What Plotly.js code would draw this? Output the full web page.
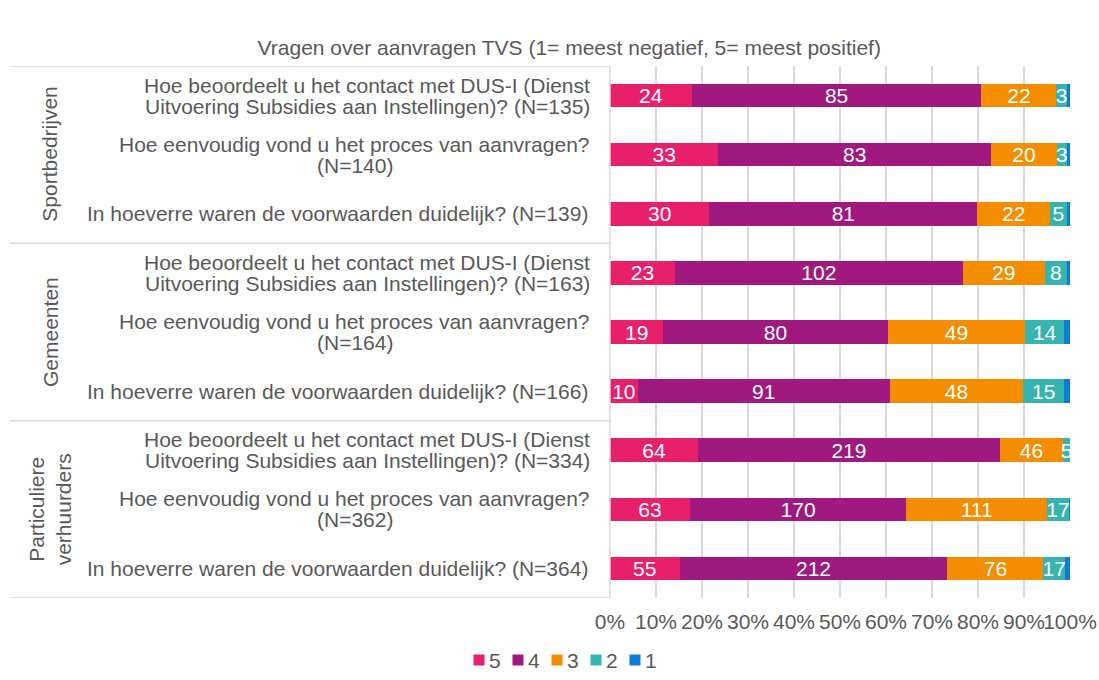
<!DOCTYPE html>
<html>
<head>
<meta charset="utf-8">
<script src="https://cdn.plot.ly/plotly-3.0.1.min.js"></script>
<style>html,body{margin:0;padding:0;background:#fff;}#chart{width:1099px;height:680px;}</style>
</head>
<body>
<div id="chart"></div>
<script>
var groups = ["Sportbedrijven", "Gemeenten", "Particuliere<br>verhuurders"];
var questions = [
  "Hoe beoordeelt u het contact met DUS-I (Dienst<br>Uitvoering Subsidies aan Instellingen)? (N=135)",
  "Hoe eenvoudig vond u het proces van aanvragen?<br>(N=140)",
  "In hoeverre waren de voorwaarden duidelijk? (N=139)",
  "Hoe beoordeelt u het contact met DUS-I (Dienst<br>Uitvoering Subsidies aan Instellingen)? (N=163)",
  "Hoe eenvoudig vond u het proces van aanvragen?<br>(N=164)",
  "In hoeverre waren de voorwaarden duidelijk? (N=166)",
  "Hoe beoordeelt u het contact met DUS-I (Dienst<br>Uitvoering Subsidies aan Instellingen)? (N=334)",
  "Hoe eenvoudig vond u het proces van aanvragen?<br>(N=362)",
  "In hoeverre waren de voorwaarden duidelijk? (N=364)"
];
var groupOfQuestion = [0,0,0,1,1,1,2,2,2];
var seriesNames = ["5", "4", "3", "2", "1"];
var score5 = [24, 33, 30, 23, 19, 10, 64, 63, 55];
var score4 = [85, 83, 81, 102, 80, 91, 219, 170, 212];
var score3 = [22, 20, 22, 29, 49, 48, 46, 111, 76];
var score2 = [3, 3, 5, 8, 14, 15, 5, 17, 17];
var score1 = [1, 1, 1, 1, 2, 2, 0, 1, 4];
var xTicks = [0,10,20,30,40,50,60,70,80,90,100];

var colors = ["#E8206B", "#A0197E", "#F58D00", "#36B5B0", "#0B7DD6"];
var allSeries = [score5, score4, score3, score2, score1];
var yIdx = questions.map(function(q, i){ return i; });

var font = "Liberation Sans, Arial, sans-serif";
var fs = 21;
var grey = "#595959";
var lineGrey = "#D9D9D9";

var canvas = document.createElement("canvas");
var ctx = canvas.getContext("2d");
ctx.font = fs + "px 'Liberation Sans', Arial, sans-serif";
function textW(t){ return ctx.measureText(t).width; }

var traces = allSeries.map(function(vals, s){
  return {
    type: "bar",
    orientation: "h",
    name: seriesNames[s],
    y: yIdx,
    x: vals,
    text: s < 4 ? vals.map(String) : vals.map(function(){return "";}),
    textposition: "inside",
    insidetextanchor: "middle",
    constraintext: "none",
    textangle: 0,
    textfont: {color: "#FFFFFF", size: fs, family: font},
    marker: {color: colors[s], line: {width: 0}},
    hoverinfo: "name+x",
    showlegend: false
  };
});

var annotations = [];
var labelGap = 20;
var lineStep = 21;
questions.forEach(function(q, i){
  var lines = q.split("<br>");
  if (lines.length === 1) {
    annotations.push({
      xref: "paper", yref: "y", x: 0, y: i, xanchor: "right", yanchor: "middle",
      xshift: -labelGap, text: q, showarrow: false,
      font: {family: font, size: fs, color: grey}
    });
  } else {
    var maxW = Math.max.apply(null, lines.map(textW));
    lines.forEach(function(line, li){
      annotations.push({
        xref: "paper", yref: "y", x: 0, y: i, xanchor: "center", yanchor: "middle",
        xshift: -labelGap - maxW / 2, yshift: ((lines.length - 1) / 2 - li) * lineStep,
        text: line, showarrow: false,
        font: {family: font, size: fs, color: grey}
      });
    });
  }
});
groups.forEach(function(g, gi){
  var idx = [];
  groupOfQuestion.forEach(function(v, i){ if (v === gi) idx.push(i); });
  var mid = (idx[0] + idx[idx.length-1]) / 2;
  annotations.push({
    xref: "paper", yref: "y", x: 0, y: mid, xanchor: "center", yanchor: "middle",
    xshift: -560, text: g, showarrow: false, textangle: -90, align: "center",
    font: {family: font, size: fs, color: grey}
  });
});

var shapes = [];
var bounds = [-0.5];
for (var i = 1; i < groupOfQuestion.length; i++) {
  if (groupOfQuestion[i] !== groupOfQuestion[i-1]) bounds.push(i - 0.5);
}
bounds.push(questions.length - 0.5);
bounds.forEach(function(b){
  shapes.push({type: "line", xref: "paper", yref: "y", x0: -1.305, x1: 0, y0: b, y1: b,
    line: {color: lineGrey, width: 1.5}});
});
shapes.push({type: "line", xref: "paper", yref: "y", x0: 0, x1: 0, y0: -0.5, y1: questions.length - 0.5,
  line: {color: lineGrey, width: 1.5}});

// legend (manual, compact like the original)
var legStart = -136.5, legStep = 39, legBox = 11, legY = -62;
seriesNames.forEach(function(n, s){
  var left = legStart + s * legStep;
  shapes.push({type: "rect", xref: "paper", yref: "paper", xsizemode: "pixel", ysizemode: "pixel",
    xanchor: 0, yanchor: 0, x0: left, x1: left + legBox, y0: legY - legBox / 2, y1: legY + legBox / 2,
    fillcolor: colors[s], line: {width: 0}});
  annotations.push({xref: "paper", yref: "paper", x: 0, y: 0, xanchor: "left", yanchor: "middle",
    xshift: left + legBox + 2, yshift: legY, text: n, showarrow: false,
    font: {family: font, size: fs, color: grey}});
});

var layout = {
  width: 1099, height: 680,
  margin: {l: 610, r: 29, t: 66, b: 82},
  paper_bgcolor: "#FFFFFF", plot_bgcolor: "#FFFFFF",
  barmode: "stack", barnorm: "percent", bargap: 0.6,
  font: {family: font, size: fs, color: grey},
  title: {text: "Vragen over aanvragen TVS (1= meest negatief, 5= meest positief)",
    x: 0.518, xanchor: "center", y: 0.93, yanchor: "middle",
    font: {family: font, size: fs, color: grey}},
  xaxis: {range: [0, 100], tickvals: xTicks, ticktext: xTicks.map(function(v){return v + "%";}),
    tickangle: 0,
    showgrid: true, gridcolor: lineGrey, gridwidth: 1.5, zeroline: false, showline: false,
    ticks: "", ticklabelstandoff: 9, tickfont: {family: font, size: fs, color: grey}, fixedrange: true},
  yaxis: {range: [questions.length - 0.5, -0.5], showticklabels: false, showgrid: false,
    zeroline: false, showline: false, ticks: "", fixedrange: true},
  showlegend: false,
  annotations: annotations,
  shapes: shapes
};

Plotly.newPlot("chart", traces, layout, {displayModeBar: false, staticPlot: true});
</script>
</body>
</html>
